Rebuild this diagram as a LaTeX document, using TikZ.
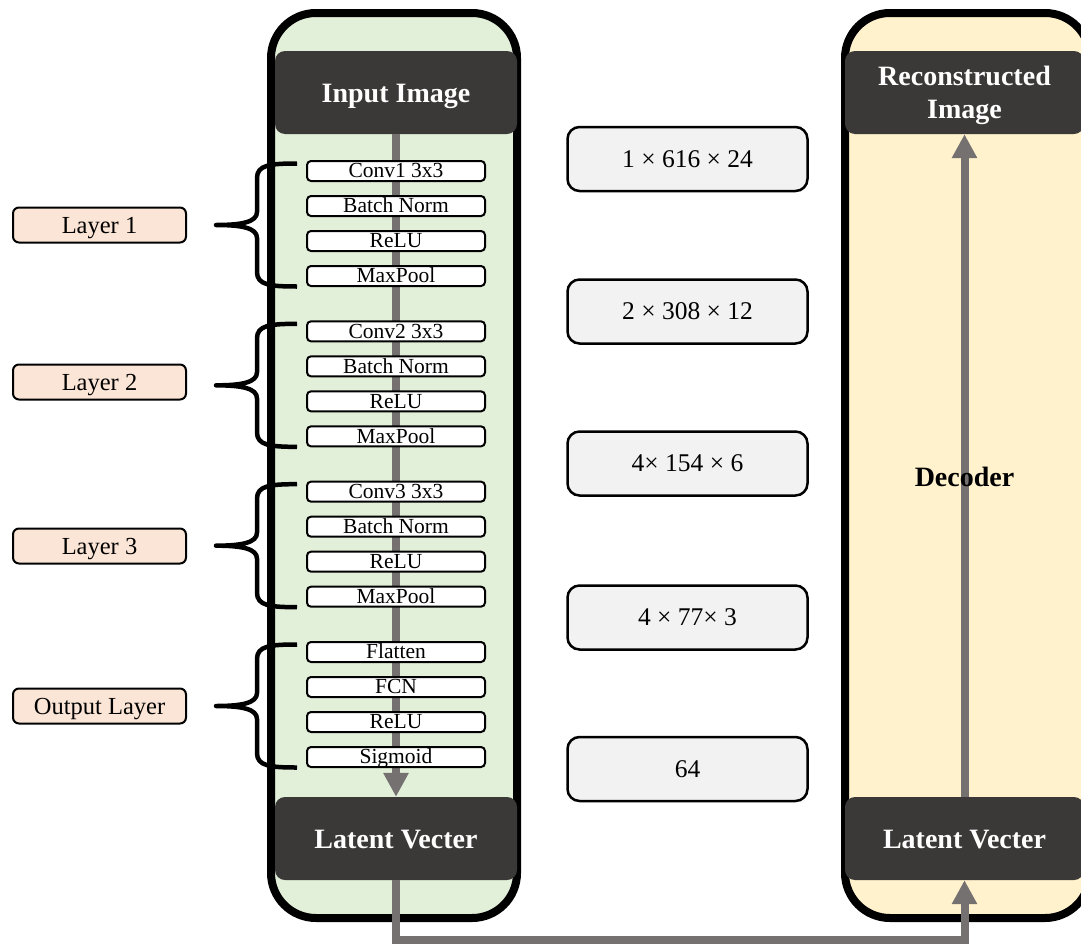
\documentclass[tikz,border=0pt]{standalone}
\usepackage{fontspec}
\setmainfont{Liberation Serif}
\usetikzlibrary{arrows.meta,calc}

\definecolor{encfill}{HTML}{E2EFD9}
\definecolor{decfill}{HTML}{FFF2CC}
\definecolor{darkfill}{HTML}{3B3838}
\definecolor{flowgray}{HTML}{767171}
\definecolor{valfill}{HTML}{F2F2F2}
\definecolor{labfill}{HTML}{FBE5D6}

\begin{document}
\begin{tikzpicture}[x=1pt,y=-1pt,
  container/.style={line width=8pt, rounded corners=45pt},
  darkbox/.style={fill=darkfill, rounded corners=10pt, text=white,
    font=\fontsize{28}{33}\selectfont\bfseries,
    minimum width=242pt, minimum height=83pt, inner sep=0pt, align=center},
  opbox/.style={draw, line width=2pt, fill=white, rounded corners=4pt,
    minimum width=178pt, minimum height=20pt, inner sep=0pt,
    text height=13.5pt, text depth=0pt, font=\fontsize{21.5}{22}\selectfont},
  shapebox/.style={draw, line width=2.5pt, fill=valfill, rounded corners=12pt,
    minimum width=240pt, minimum height=64pt, inner sep=0pt,
    font=\fontsize{25.5}{30}\selectfont},
  layerlab/.style={draw, line width=2pt, fill=labfill, rounded corners=6pt,
    minimum width=173pt, minimum height=35pt, inner sep=0pt,
    text height=16.2pt, text depth=0pt,
    font=\fontsize{24.5}{28}\selectfont},
  flow/.style={draw=flowgray, line width=8pt},
  tipped/.style={-{Triangle[length=24pt,width=24pt]}},
  curly/.style={line width=4.5pt, line join=round},
  title/.style={font=\fontsize{28}{33}\selectfont\bfseries}
]
\useasboundingbox (0,0) rectangle (1081,945);

% encoder and decoder panels
\draw[container, fill=encfill] (271,13) rectangle (517,918);
\draw[container, fill=decfill] (845,13) rectangle (1090,918);

% encoder end points
\node[darkbox, text height=19pt, text depth=0pt] (inimg) at (396,92.5) {Input Image};
\node[darkbox, text height=19pt, text depth=0pt] (enclat) at (396,838.5) {Latent Vecter};

% decoder end points
\node[darkbox, minimum width=239pt, text height=52pt, text depth=0pt] (recon) at (964.5,92.5) {Reconstructed\\Image};
\node[darkbox, minimum width=239pt, text height=19pt, text depth=0pt] (declat) at (964.5,838.5) {Latent Vecter};

% data flow through the encoder
\draw[flow, tipped] (inimg.south) -- (enclat.north);

% encoder operations, four groups of four
\foreach \g/\n/\a/\b/\c/\d in {
    160/1/Conv1 3x3/Batch Norm/ReLU/MaxPool,
    320.33/2/Conv2 3x3/Batch Norm/ReLU/MaxPool,
    480.67/3/Conv3 3x3/Batch Norm/ReLU/MaxPool,
    641/4/Flatten/FCN/ReLU/Sigmoid}{
  \node[opbox] (op\n a) at (396,\g+11) {\a};
  \node[opbox] (op\n b) at (396,\g+46) {\b};
  \node[opbox] (op\n c) at (396,\g+81) {\c};
  \node[opbox] (op\n d) at (396,\g+116) {\d};
  % curly brace grouping the block
  \pgfmathsetmacro{\yc}{\g+65}
  \draw[curly] (297,\yc-61.5) .. controls (270,\yc-61.5) and (257,\yc-60) .. (257,\yc-47)
    -- (257,\yc-13) .. controls (257,\yc-3) and (242,\yc) .. (216,\yc)
    .. controls (242,\yc) and (257,\yc+3) .. (257,\yc+13)
    -- (257,\yc+47) .. controls (257,\yc+60) and (270,\yc+61.5) .. (297,\yc+61.5);
}

% block labels
\node[layerlab] (lab1) at (99.5,225) {Layer 1};
\node[layerlab] (lab2) at (99.5,382) {Layer 2};
\node[layerlab] (lab3) at (99.5,546) {Layer 3};
\node[layerlab] (lab4) at (99.5,706) {Output Layer};

% tensor shapes after each block
\node[shapebox] (s1) at (687.5,159) {1 × 616 × 24};
\node[shapebox] (s2) at (687.5,311.5) {2 × 308 × 12};
\node[shapebox] (s3) at (687.5,463.5) {4× 154 × 6};
\node[shapebox] (s4) at (687.5,617.5) {4 × 77× 3};
\node[shapebox] (s5) at (687.5,769) {64};

% decoder path
\draw[flow, tipped] (declat.north) -- (recon.south);
\node[title] (dectxt) at (964.5,477) {Decoder};

% latent vector handed over to the decoder
\draw[flow, tipped, line join=miter] (enclat.south) -- ++(0,60) -| (declat.south);
\end{tikzpicture}
\end{document}
